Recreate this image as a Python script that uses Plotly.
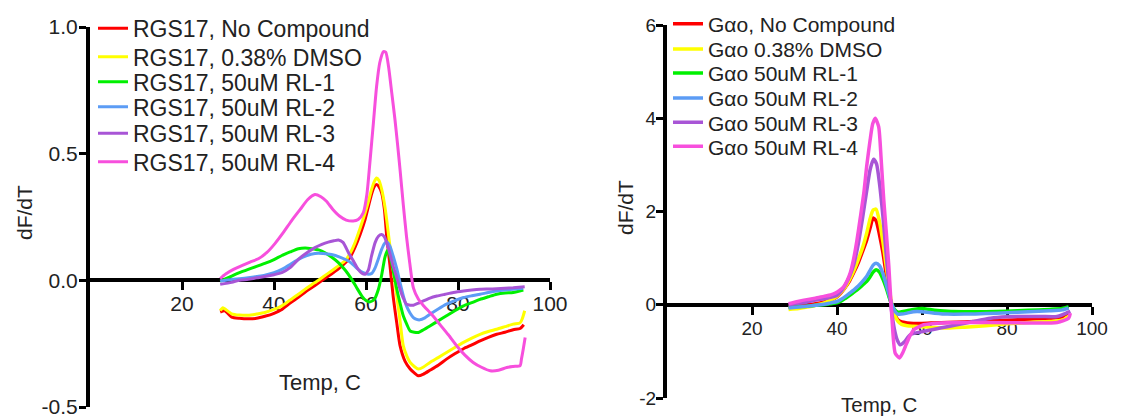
import plotly.graph_objects as go

# ---------------- data ----------------
left_names = ["RGS17, No Compound", "RGS17, 0.38% DMSO", "RGS17, 50uM RL-1",
              "RGS17, 50uM RL-2", "RGS17, 50uM RL-3", "RGS17, 50uM RL-4"]
right_names = ["G\u03b1o, No Compound", "G\u03b1o 0.38% DMSO", "G\u03b1o 50uM RL-1",
               "G\u03b1o 50uM RL-2", "G\u03b1o 50uM RL-3", "G\u03b1o 50uM RL-4"]
series_colors = ["#ff0000", "#ffff00", "#00f000", "#5c9cf5", "#a855d6", "#f74fdd"]

x_ticks = [20, 40, 60, 80, 100]
left_y_ticks = [-0.5, 0.0, 0.5, 1.0]
left_y_labels = ["-0.5", "0.0", "0.5", "1.0"]
right_y_ticks = [-2, 0, 2, 4, 6]
right_y_labels = ["-2", "0", "2", "4", "6"]

# RGS17 panel
rgs_none_t = [28.3, 29.3, 30.8, 32.5, 34.4, 36.2, 38.0, 40.0, 41.7, 43.5, 45.3, 47.0, 48.9, 50.7, 52.5, 54.0,
              55.4, 56.5, 57.6, 58.7, 59.8, 60.5, 61.2, 61.8, 62.3, 62.8, 63.4, 64.0, 64.5, 65.2, 65.9, 66.7,
              67.4, 68.5, 69.6, 70.5, 71.4, 72.5, 73.9, 75.7, 77.5, 79.3, 81.2, 83.0, 84.8, 86.6, 88.4, 90.2,
              92.0, 93.5, 94.3]
rgs_none_v = [-0.125, -0.12, -0.145, -0.15, -0.152, -0.15, -0.142, -0.13, -0.115, -0.09, -0.067, -0.043,
              -0.02, 0.003, 0.025, 0.045, 0.068, 0.09, 0.13, 0.18, 0.24, 0.29, 0.34, 0.37, 0.378, 0.37, 0.345,
              0.28, 0.174, 0.06, -0.062, -0.17, -0.258, -0.32, -0.35, -0.365, -0.377, -0.37, -0.355, -0.335,
              -0.311, -0.29, -0.27, -0.255, -0.239, -0.225, -0.213, -0.205, -0.195, -0.19, -0.175]

rgs_dmso_t = [28.3, 28.9, 29.5, 30.8, 32.5, 34.4, 36.2, 38.0, 40.0, 41.7, 43.5, 45.3, 47.0, 48.9, 50.7, 52.5,
              54.0, 55.4, 56.5, 57.6, 58.7, 59.8, 60.5, 61.2, 61.8, 62.3, 62.8, 63.4, 64.2, 65.2, 66.0, 66.7,
              67.4, 68.1, 68.9, 69.6, 70.5, 71.4, 72.5, 73.9, 75.7, 77.5, 79.3, 81.2, 83.0, 84.8, 86.6, 88.4,
              90.2, 92.0, 93.5, 94.0, 94.5]
rgs_dmso_v = [-0.12, -0.108, -0.115, -0.132, -0.137, -0.138, -0.133, -0.127, -0.115, -0.101, -0.078, -0.055,
              -0.032, -0.009, 0.014, 0.037, 0.057, 0.076, 0.105, 0.148, 0.205, 0.266, 0.31, 0.358, 0.39, 0.404,
              0.395, 0.36, 0.28, 0.135, 0.03, -0.062, -0.16, -0.258, -0.30, -0.324, -0.34, -0.35, -0.342,
              -0.324, -0.305, -0.285, -0.265, -0.245, -0.228, -0.213, -0.202, -0.193, -0.183, -0.173, -0.168,
              -0.15, -0.12]

rgs_rl1_t = [28.3, 30.8, 32.5, 34.4, 36.2, 38.0, 40.0, 41.7, 43.5, 45.3, 46.8, 48.2, 49.7, 51.1, 52.5, 54.0,
             55.5, 56.9, 58.0, 59.1, 60.0, 60.9, 61.8, 62.7, 63.4, 64.1, 64.7, 65.3, 66.0, 66.7, 67.4, 68.1,
             68.9, 69.6, 70.5, 71.4, 72.5, 73.9, 75.7, 77.5, 79.3, 81.2, 83.0, 84.8, 86.6, 88.4, 90.2, 92.0, 94.2]
rgs_rl1_v = [-0.003, 0.017, 0.03, 0.043, 0.055, 0.067, 0.082, 0.098, 0.112, 0.125, 0.128, 0.125, 0.12, 0.109,
             0.092, 0.07, 0.04, 0.004, -0.03, -0.062, -0.08, -0.085, -0.075, -0.035, 0.02, 0.09, 0.12, 0.09,
             0.03, -0.035, -0.09, -0.14, -0.175, -0.2, -0.205, -0.206, -0.195, -0.18, -0.16, -0.14, -0.12,
             -0.101, -0.088, -0.075, -0.065, -0.055, -0.05, -0.048, -0.038]

rgs_rl2_t = [28.3, 30.8, 32.5, 34.4, 36.2, 38.0, 40.0, 41.7, 43.5, 45.3, 47.0, 48.9, 50.7, 52.5, 54.3, 56.2,
             57.3, 58.3, 59.4, 60.5, 61.3, 62.0, 62.7, 63.4, 64.0, 64.5, 65.2, 65.9, 66.7, 67.4, 68.1, 68.8,
             69.6, 70.3, 71.0, 71.7, 72.8, 73.9, 75.7, 77.5, 79.3, 81.2, 83.0, 84.8, 86.6, 88.4, 90.2, 92.0, 94.2]
rgs_rl2_v = [-0.003, 0.003, 0.006, 0.01, 0.015, 0.02, 0.03, 0.043, 0.062, 0.083, 0.097, 0.106, 0.106, 0.102,
             0.092, 0.076, 0.06, 0.043, 0.03, 0.024, 0.028, 0.05, 0.085, 0.122, 0.145, 0.152, 0.135, 0.096,
             0.045, -0.009, -0.06, -0.101, -0.13, -0.147, -0.154, -0.156, -0.148, -0.134, -0.113, -0.094,
             -0.08, -0.068, -0.061, -0.055, -0.048, -0.042, -0.038, -0.035, -0.031]

rgs_rl3_t = [28.3, 30.8, 32.5, 34.4, 36.2, 38.0, 40.0, 41.7, 43.5, 45.3, 47.0, 48.9, 50.4, 51.8, 53.0, 54.0,
             55.0, 56.2, 57.3, 58.3, 59.1, 59.8, 60.5, 61.2, 62.0, 62.7, 63.4, 64.0, 64.5, 65.2, 65.9, 66.7,
             67.4, 68.1, 68.8, 69.6, 70.3, 71.4, 72.5, 73.9, 75.4, 77.2, 79.0, 81.2, 83.0, 84.8, 86.6, 88.4,
             90.2, 92.0, 94.5]
rgs_rl3_v = [-0.016, -0.008, 0.0, 0.004, 0.01, 0.015, 0.022, 0.03, 0.05, 0.083, 0.107, 0.129, 0.142, 0.151,
             0.156, 0.159, 0.15, 0.109, 0.075, 0.043, 0.028, 0.024, 0.04, 0.096, 0.15, 0.174, 0.181, 0.172,
             0.148, 0.105, 0.056, 0.01, -0.035, -0.07, -0.094, -0.098, -0.098, -0.09, -0.081, -0.07, -0.062,
             -0.055, -0.048, -0.042, -0.038, -0.035, -0.034, -0.033, -0.031, -0.029, -0.025]

rgs_rl4_t = [28.3, 29.5, 31.2, 33.0, 34.8, 36.6, 38.4, 40.2, 42.0, 43.8, 45.7, 47.3, 48.9, 50.2, 51.4, 52.8,
             54.3, 55.7, 57.2, 58.3, 59.4, 60.2, 60.9, 61.6, 62.3, 63.0, 63.8, 64.3, 64.9, 65.6, 66.3, 66.9,
             67.4, 68.1, 68.8, 69.5, 70.3, 71.4, 72.5, 74.3, 76.1, 77.9, 79.7, 81.5, 83.3, 85.1, 87.0, 88.8,
             90.6, 92.0, 93.5, 93.8, 94.2, 94.6]
rgs_rl4_v = [0.007, 0.025, 0.043, 0.058, 0.072, 0.085, 0.109, 0.145, 0.188, 0.235, 0.28, 0.318, 0.339, 0.33,
             0.312, 0.28, 0.253, 0.238, 0.234, 0.24, 0.266, 0.34, 0.476, 0.62, 0.765, 0.86, 0.903, 0.9, 0.844,
             0.74, 0.634, 0.53, 0.437, 0.3, 0.174, 0.07, -0.03, -0.075, -0.1, -0.135, -0.175, -0.215, -0.258,
             -0.295, -0.324, -0.343, -0.357, -0.355, -0.344, -0.34, -0.337, -0.31, -0.27, -0.226]

# G-alpha-o panel
gao_temp = [28.6, 31, 33, 35, 37, 38.5, 40, 41, 42, 43, 44, 45, 46, 47, 47.8, 48.5, 49.2, 50, 50.8, 51.5,
            52.2, 52.8, 53.5, 54.3, 55.2, 56.5, 58, 60, 63, 66, 70, 75, 80, 85, 90, 93, 94.5]
gao_none_v = [-0.05, -0.03, -0.01, 0.02, 0.06, 0.1, 0.17, 0.26, 0.38, 0.52, 0.7, 0.9, 1.14, 1.39, 1.65, 1.86,
              1.8, 1.5, 1.12, 0.7, 0.3, 0.0, -0.2, -0.32, -0.37, -0.39, -0.4, -0.4, -0.39, -0.38, -0.37, -0.35,
              -0.33, -0.31, -0.29, -0.26, -0.16]
gao_dmso_v = [-0.1, -0.08, -0.05, -0.01, 0.04, 0.1, 0.18, 0.27, 0.39, 0.55, 0.74, 0.97, 1.22, 1.54, 1.85, 2.03,
              2.05, 1.78, 1.35, 0.88, 0.42, 0.06, -0.2, -0.35, -0.42, -0.45, -0.46, -0.47, -0.49, -0.5, -0.48,
              -0.45, -0.41, -0.38, -0.36, -0.33, -0.25]
gao_rl1_v = [-0.05, -0.04, -0.03, -0.01, 0.0, 0.02, 0.04, 0.08, 0.14, 0.2, 0.27, 0.34, 0.42, 0.5, 0.6, 0.7,
             0.75, 0.7, 0.55, 0.38, 0.18, 0.02, -0.1, -0.16, -0.15, -0.13, -0.1, -0.08, -0.12, -0.14, -0.15,
             -0.15, -0.14, -0.12, -0.1, -0.08, -0.04]
gao_rl2_v = [-0.07, -0.05, -0.03, -0.01, 0.01, 0.04, 0.07, 0.12, 0.18, 0.25, 0.32, 0.4, 0.5, 0.61, 0.74, 0.85,
             0.89, 0.84, 0.67, 0.46, 0.23, 0.04, -0.12, -0.2, -0.2, -0.18, -0.15, -0.15, -0.18, -0.2, -0.2,
             -0.19, -0.17, -0.15, -0.13, -0.11, -0.07]
gao_rl3_t = [28.6, 31, 33, 35, 37, 38.5, 40, 41, 42, 43, 44, 45, 46, 47, 47.8, 48.6, 49.3, 50, 50.8, 51.5,
             52.2, 52.8, 53.5, 54.2, 54.9, 55.8, 57.3, 60.4, 64.3, 68.2, 72, 76.1, 80, 83.9, 88, 91.8, 94.9]
gao_rl3_v = [0.0, 0.03, 0.06, 0.1, 0.13, 0.16, 0.2, 0.29, 0.43, 0.62, 0.88, 1.3, 1.85, 2.45, 2.9, 3.12, 3.02,
             2.6, 1.9, 1.15, 0.45, -0.1, -0.52, -0.76, -0.86, -0.8, -0.64, -0.57, -0.5, -0.43, -0.36, -0.29,
             -0.26, -0.25, -0.25, -0.25, -0.14]
gao_rl4_t = [28.6, 30.8, 32.9, 34.9, 36.9, 38.5, 39.6, 40.6, 41.6, 42.4, 43.1, 43.9, 44.7, 45.5, 46.3, 47.0,
             47.8, 48.4, 49.0, 49.8, 50.4, 51.0, 51.6, 52.2, 52.9, 53.7, 54.7, 55.4, 56.1, 57.0, 58.0, 60.4,
             64.3, 70, 76.1, 83.9, 91.8, 94.5, 94.9]
gao_rl4_v = [0.02, 0.07, 0.11, 0.14, 0.18, 0.21, 0.25, 0.31, 0.39, 0.52, 0.68, 0.98, 1.39, 1.88, 2.39, 2.98,
             3.54, 3.88, 4.0, 3.82, 3.1, 2.25, 1.55, 0.82, -0.25, -1.04, -1.14, -1.04, -0.89, -0.7, -0.54,
             -0.43, -0.39, -0.38, -0.38, -0.39, -0.38, -0.29, -0.18]

left_series = [(rgs_none_t, rgs_none_v), (rgs_dmso_t, rgs_dmso_v), (rgs_rl1_t, rgs_rl1_v),
               (rgs_rl2_t, rgs_rl2_v), (rgs_rl3_t, rgs_rl3_v), (rgs_rl4_t, rgs_rl4_v)]
right_series = [(gao_temp, gao_none_v), (gao_temp, gao_dmso_v), (gao_temp, gao_rl1_v),
                (gao_temp, gao_rl2_v), (gao_rl3_t, gao_rl3_v), (gao_rl4_t, gao_rl4_v)]

# ---------------- layout geometry ----------------
W, H = 1143, 417
TXT = "#222222"
FONT = "Liberation Sans, Arial, sans-serif"

left_x_dom = [90 / W, 550 / W]
left_y_dom = [1 - 407 / H, 1 - 27 / H]
right_x_dom = [667 / W, 1092 / W]
right_y_dom = [1 - 398 / H, 1 - 25 / H]
left_yr = [-0.5, 1.0]
right_yr = [-2, 6]


def zero_pos(dom, rng):
    return dom[0] + (0 - rng[0]) / (rng[1] - rng[0]) * (dom[1] - dom[0])


fig = go.Figure()

left_rows = [28.3, 56.7, 81.7, 106.7, 133.3, 161.7]
right_rows = [24.0, 49.3, 73.3, 98.3, 122.7, 146.7]

legends = {}
for i, (name, (t, v), col) in enumerate(zip(left_names, left_series, series_colors)):
    lg = "legend" if i == 0 else f"legend{i + 1}"
    fig.add_trace(go.Scatter(x=t, y=v, mode="lines", name=name, legend=lg,
                             line=dict(color=col, width=3, shape="spline", smoothing=0.6),
                             xaxis="x", yaxis="y"))
    legends[lg] = dict(x=93 / W, y=1 - left_rows[i] / H, xanchor="left", yanchor="middle",
                       font=dict(family=FONT, size=23, color=TXT), bgcolor="rgba(0,0,0,0)",
                       borderwidth=0)
for i, (name, (t, v), col) in enumerate(zip(right_names, right_series, series_colors)):
    lg = f"legend{i + 7}"
    fig.add_trace(go.Scatter(x=t, y=v, mode="lines", name=name, legend=lg,
                             line=dict(color=col, width=3.5, shape="spline", smoothing=0.6),
                             xaxis="x2", yaxis="y2"))
    legends[lg] = dict(x=668 / W, y=1 - right_rows[i] / H, xanchor="left", yanchor="middle",
                       font=dict(family=FONT, size=21, color=TXT), bgcolor="rgba(0,0,0,0)",
                       borderwidth=0)

axis_common = dict(showgrid=False, zeroline=False, showline=True, linecolor="black",
                   ticks="outside", tickcolor="black", layer="below traces", automargin=False,
                   ticklabeloverflow="allow")

fig.update_layout(
    width=W, height=H,
    margin=dict(l=0, r=0, t=0, b=0),
    template="none",
    paper_bgcolor="white", plot_bgcolor="white",
    font=dict(family=FONT, color=TXT),
    showlegend=True,
    xaxis=dict(domain=left_x_dom, range=[0, 100], anchor="free",
               position=zero_pos(left_y_dom, left_yr), tickvals=x_ticks, ticklabelstandoff=-5,
               tickfont=dict(size=21, color=TXT), ticklen=8, tickwidth=3, linewidth=4, **axis_common),
    yaxis=dict(domain=left_y_dom, range=left_yr, anchor="x", tickvals=left_y_ticks,
               ticktext=left_y_labels, tickfont=dict(size=21, color=TXT), ticklen=7, tickwidth=3,
               ticklabelstandoff=-3, linewidth=4, **axis_common),
    xaxis2=dict(domain=right_x_dom, range=[0, 100], anchor="free",
                position=zero_pos(right_y_dom, right_yr), tickvals=x_ticks, ticklabelstandoff=-3,
                tickfont=dict(size=19, color=TXT), ticklen=8, tickwidth=3, linewidth=4, **axis_common),
    yaxis2=dict(domain=right_y_dom, range=right_yr, anchor="x2", tickvals=right_y_ticks,
                ticktext=right_y_labels, tickfont=dict(size=19, color=TXT), ticklen=7, tickwidth=3,
                ticklabelstandoff=-4, linewidth=4, **axis_common),
    **legends,
)

annos = [
    dict(text="Temp, C", x=320 / W, y=1 - 382 / H, font=dict(size=22)),
    dict(text="dF/dT", x=24 / W, y=1 - 213 / H, font=dict(size=21), textangle=-90),
    dict(text="Temp, C", x=879 / W, y=1 - 404 / H, font=dict(size=20.5)),
    dict(text="dF/dT", x=625 / W, y=1 - 208 / H, font=dict(size=21), textangle=-90),
]
for a in annos:
    a.update(xref="paper", yref="paper", showarrow=False, xanchor="center", yanchor="middle")
    a["font"].update(family=FONT, color=TXT)
fig.update_layout(annotations=annos)

fig.write_html("out.html")
